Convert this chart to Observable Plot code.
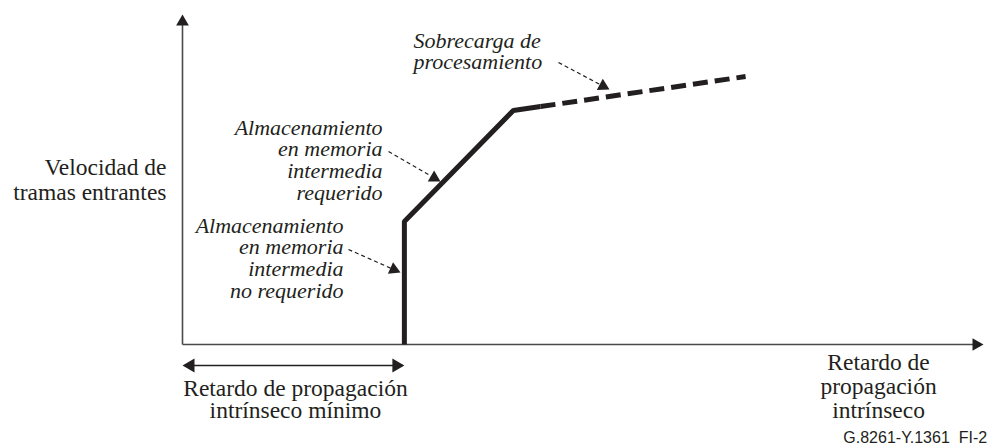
<!DOCTYPE html>
<html><head><meta charset="utf-8">
<script src="https://cdn.jsdelivr.net/npm/d3@7"></script>
<script src="https://cdn.jsdelivr.net/npm/@observablehq/plot@0.6"></script>
</head><body style="margin:0">
<div id="chart"></div>
<script>
// ---- data (abstract units: x and y run 0..100 along the axes) ----
const curveSolidX = [27.7, 27.7, 41.3, 44.7];
const curveSolidY = [0, 37.3, 70.9, 72.1];
const curveDashX = [44.7, 70.3];
const curveDashY = [72.1, 81.2];

const noteTexts = [
  "Sobrecarga de\nprocesamiento",
  "Almacenamiento\nen memoria\nintermedia\nrequerido",
  "Almacenamiento\nen memoria\nintermedia\nno requerido"
];
const noteX = [28.84, 24.97, 20.1];
const noteY = [88.83, 55.8, 26.1];
const noteAnchor = ["start", "end", "end"];
// pointer arrows: tail -> tip
const pointerTailX = [46.94, 25.72, 20.72];
const pointerTailY = [85.45, 58.48, 28.79];
const pointerTipX = [53.31, 32.21, 27.22];
const pointerTipY = [77.27, 49.39, 21.82];

const yLabel = "Velocidad de\ntramas entrantes";
const yLabelPos = [-2.0, 49.9];
const xLabel = "Retardo de\npropagación\nintrínseco";
const xLabelPos = [86.9, -12.7];
const minLabel = "Retardo de propagación\nintrínseco mínimo";
const minLabelPos = [14.1, -16.7];
const minSpanX = [0, 27.7];
const minSpanY = -6.36;
const figId = "G.8261-Y.1361  FI-2";
const figIdPos = [82.5, -28.2];

// ---- layout ----
const W = 987, H = 447, mL = 182, mR = 4, mT = 14, mB = 103;
const pxPerY = (H - mT - mB) / 100;
const toPx = (x, y) => [mL + x / 100 * (W - mL - mR), H - mB - y * pxPerY];
const toData = (px, py) => [(px - mL) / (W - mL - mR) * 100, (H - mB - py) / pxPerY];

function head(tail, tip, h) {
  const [ax, ay] = toPx(tail[0], tail[1]);
  const [bx, by] = toPx(tip[0], tip[1]);
  const L = Math.hypot(bx - ax, by - ay);
  const ux = (bx - ax) / L, uy = (by - ay) / L;
  const c = toData(bx - ux * 2 * h / 3, by - uy * 2 * h / 3);
  const base = toData(bx - ux * h * 0.8, by - uy * h * 0.8);
  return {x: c[0], y: c[1], rotate: Math.atan2(ux, -uy) * 180 / Math.PI, bx: base[0], by: base[1]};
}
const rFor = h => h / Math.sqrt(Math.PI * Math.sqrt(3));

function linesOf(text, x, y, lhPx) {
  const parts = text.split("\n");
  const n = parts.length;
  return parts.map((t, i) => ({t, x, y: y - (i - (n - 1) / 2) * lhPx / pxPerY}));
}

const axisHeads = [head([0, 0], [0, 100], 11), head([0, 0], [100, 0], 11)];
const spanHeads = [
  head([minSpanX[1], minSpanY], [minSpanX[0], minSpanY], 12),
  head([minSpanX[0], minSpanY], [minSpanX[1], minSpanY], 12)
];
const pointers = pointerTailX.map((_, i) => {
  const hd = head([pointerTailX[i], pointerTailY[i]], [pointerTipX[i], pointerTipY[i]], 11);
  return {x1: pointerTailX[i], y1: pointerTailY[i], x2: hd.bx, y2: hd.by, ...hd};
});

const noteLH = [21.5, 21.9, 21.9];
const noteStart = noteTexts.flatMap((t, i) => noteAnchor[i] === "start" ? linesOf(t, noteX[i], noteY[i], noteLH[i]) : []);
const noteEnd = noteTexts.flatMap((t, i) => noteAnchor[i] === "end" ? linesOf(t, noteX[i], noteY[i], noteLH[i]) : []);

const ink = "#231f20";
const SERIF = "'Liberation Serif', serif";
const noteStyle = {x: "x", y: "y", text: "t", fontFamily: SERIF, fontStyle: "italic", fontSize: 22, fill: ink};
const labelStyle = {x: "x", y: "y", text: "t", fontFamily: SERIF, fontSize: 23.5, fill: ink};

const plot = Plot.plot({
  width: W, height: H,
  marginLeft: mL, marginRight: mR, marginTop: mT, marginBottom: mB,
  x: {domain: [0, 100], axis: null},
  y: {domain: [0, 100], axis: null},
  marks: [
    Plot.link([{x1: 0, y1: 0, x2: 0, y2: axisHeads[0].by}], {x1: "x1", y1: "y1", x2: "x2", y2: "y2", stroke: "#4a4a4a", strokeWidth: 1.6}),
    Plot.link([{x1: 0, y1: 0, x2: axisHeads[1].bx, y2: 0}], {x1: "x1", y1: "y1", x2: "x2", y2: "y2", stroke: "#4a4a4a", strokeWidth: 1.6}),
    Plot.dot(axisHeads, {x: "x", y: "y", rotate: "rotate", r: rFor(11), symbol: "triangle", fill: ink, stroke: "none"}),
    Plot.line(curveSolidX.map((x, i) => ({x, y: curveSolidY[i]})), {x: "x", y: "y", stroke: ink, strokeWidth: 5, strokeLinejoin: "miter", strokeLinecap: "butt"}),
    Plot.line(curveDashX.map((x, i) => ({x, y: curveDashY[i]})), {x: "x", y: "y", stroke: ink, strokeWidth: 5, strokeDasharray: "15,7", strokeLinecap: "butt"}),
    Plot.link([{x1: spanHeads[0].bx, x2: spanHeads[1].bx, y: minSpanY}], {x1: "x1", x2: "x2", y1: "y", y2: "y", stroke: ink, strokeWidth: 1.6}),
    Plot.dot(spanHeads, {x: "x", y: "y", rotate: "rotate", r: rFor(12), symbol: "triangle", fill: ink, stroke: "none"}),
    Plot.link(pointers, {x1: "x1", y1: "y1", x2: "x2", y2: "y2", stroke: ink, strokeWidth: 1.2, strokeDasharray: "4,3"}),
    Plot.dot(pointers, {x: "x", y: "y", rotate: "rotate", r: rFor(11), symbol: "triangle", fill: ink, stroke: "none"}),
    Plot.text(noteStart, {...noteStyle, textAnchor: "start"}),
    Plot.text(noteEnd, {...noteStyle, textAnchor: "end"}),
    Plot.text(linesOf(yLabel, yLabelPos[0], yLabelPos[1], 25.4), {...labelStyle, textAnchor: "end"}),
    Plot.text(linesOf(xLabel, xLabelPos[0], xLabelPos[1], 24.2), {...labelStyle, textAnchor: "middle"}),
    Plot.text(linesOf(minLabel, minLabelPos[0], minLabelPos[1], 22.6), {...labelStyle, textAnchor: "middle"}),
    Plot.text([{t: figId, x: figIdPos[0], y: figIdPos[1]}], {x: "x", y: "y", text: "t", textAnchor: "start", fontFamily: "'Liberation Sans', sans-serif", fontSize: 16, fill: ink})
  ]
});
// make sure each text element carries its family directly
d3.select(plot).selectAll("g[font-family]").each(function () {
  const fam = this.getAttribute("font-family");
  d3.select(this).selectAll("text").attr("font-family", fam).style("font-family", fam);
});
document.getElementById("chart").appendChild(plot);
</script></body></html>
